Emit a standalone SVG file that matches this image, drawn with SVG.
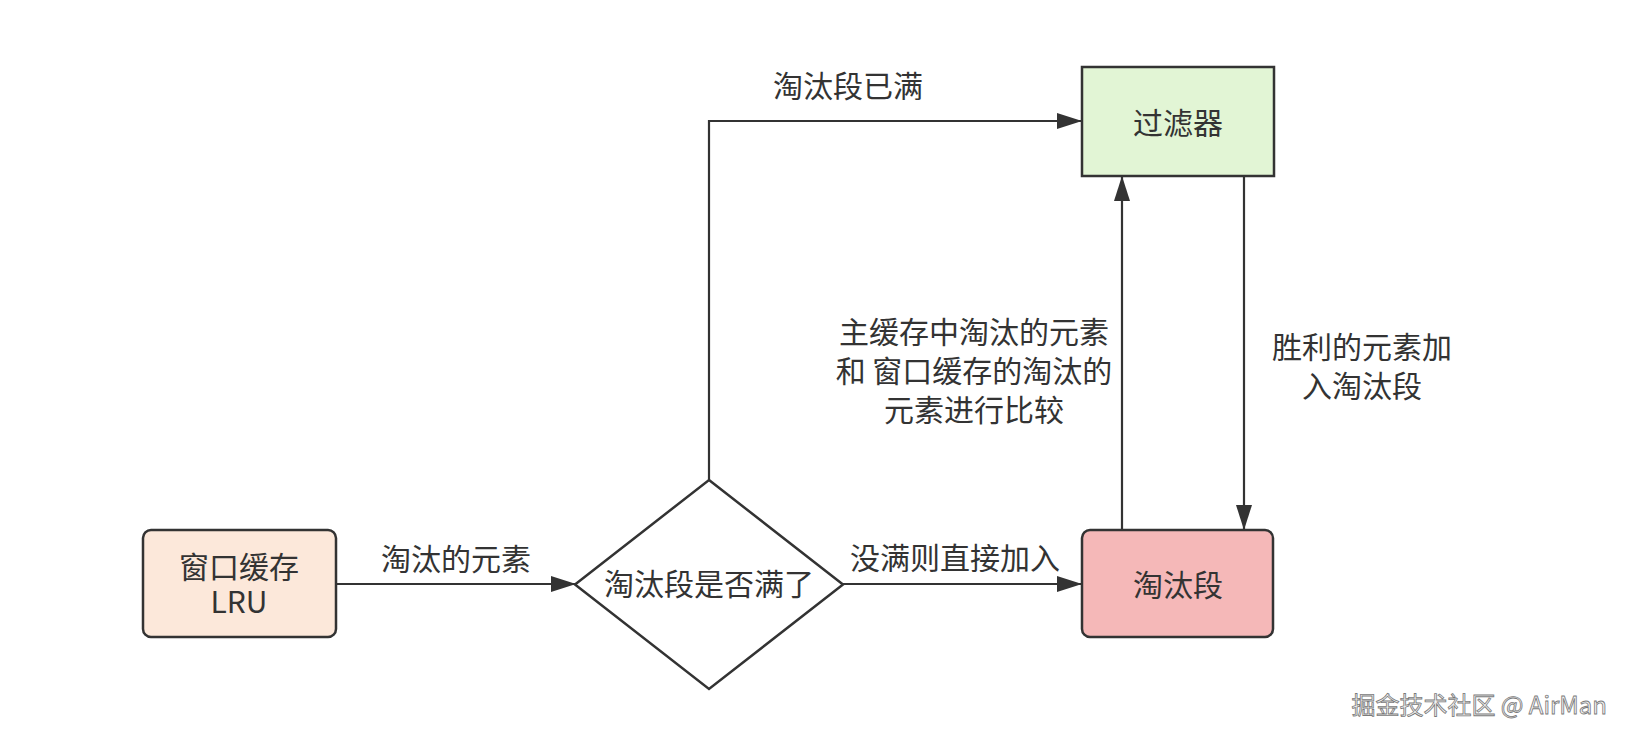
<svg xmlns="http://www.w3.org/2000/svg" width="1630" height="740" viewBox="0 0 1630 740">
<defs>
<style>
.t{font-family:"Noto Sans CJK SC","Noto Sans",sans-serif;font-size:30px;fill:#333333;text-anchor:middle;}
.node{stroke:#333333;stroke-width:2.5;}
.edge{fill:none;stroke:#333333;stroke-width:2.2;marker-end:url(#arr);}
.wm{font-family:"Noto Sans CJK SC","Noto Sans",sans-serif;font-size:24px;fill:#f4f4f4;stroke:#7a7a7a;stroke-width:0.8;text-anchor:end;}
</style>
<marker id="arr" viewBox="0 0 25 16" refX="24" refY="8" markerWidth="25" markerHeight="16" markerUnits="userSpaceOnUse" orient="auto">
<path d="M0,0 L25,8 L0,16 Z" fill="#333333"/>
</marker>
</defs>
<rect width="1630" height="740" fill="#ffffff"/>
<g id="connectors">
<path class="edge" d="M336,584 H575"/>
<path class="edge" d="M843,584 H1081"/>
<path class="edge" d="M709,480 V121 H1081"/>
<path class="edge" d="M1122,530 V177"/>
<path class="edge" d="M1244,176 V529"/>
<text class="t" x="456" y="570">淘汰的元素</text>
<text class="t" x="955" y="569">没满则直接加入</text>
<text class="t" x="848" y="97">淘汰段已满</text>
<text class="t" x="974" y="343">主缓存中淘汰的元素<tspan x="974" dy="39">和 窗口缓存的淘汰的</tspan><tspan x="974" dy="39">元素进行比较</tspan></text>
<text class="t" x="1362" y="358">胜利的元素加<tspan x="1362" dy="39">入淘汰段</tspan></text>
</g>
<g id="window">
<rect class="node" x="143" y="530" width="193" height="107" rx="8" fill="#FCE8DA"/>
<text class="t" x="239" y="578">窗口缓存<tspan x="239" dy="35">LRU</tspan></text>
</g>
<g id="decision">
<polygon class="node" points="709,480 843,584.5 709,689 575,584.5" fill="#ffffff"/>
<text class="t" x="709" y="595">淘汰段是否满了</text>
</g>
<g id="filter">
<rect class="node" x="1082" y="67" width="192" height="109" fill="#E2F5D5"/>
<text class="t" x="1178" y="134">过滤器</text>
</g>
<g id="evict">
<rect class="node" x="1082" y="530" width="191" height="107" rx="8" fill="#F5B8B8"/>
<text class="t" x="1178" y="596">淘汰段</text>
</g>
<text class="wm" x="1607" y="714">掘金技术社区 @ AirMan</text>
</svg>
